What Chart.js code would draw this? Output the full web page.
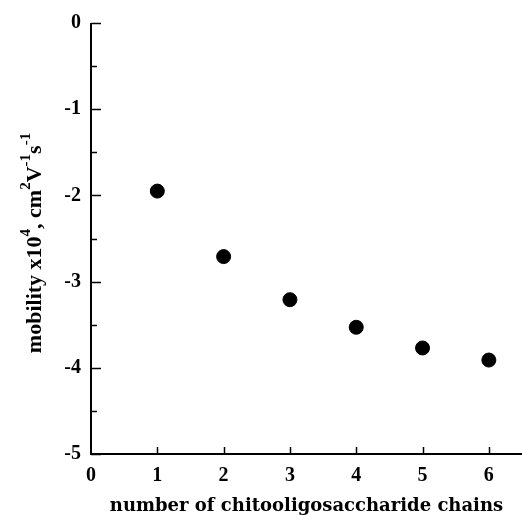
<!DOCTYPE html>
<html>
<head>
<meta charset="utf-8">
<script src="https://cdn.jsdelivr.net/npm/chart.js@4.4.0/dist/chart.umd.min.js"></script>
<style>
html, body { margin: 0; padding: 0; background: #fff; }
#wrap { width: 522px; height: 515px; }
</style>
</head>
<body>
<div id="wrap"><canvas id="mobilityChart"></canvas></div>
<script>
const chains = [1, 2, 3, 4, 5, 6];
const mobility = [-1.95, -2.71, -3.21, -3.53, -3.77, -3.91];
const xTicks = [0, 1, 2, 3, 4, 5, 6];
const yTicks = [0, -1, -2, -3, -4, -5];
const yMinorTicks = [-0.5, -1.5, -2.5, -3.5, -4.5];
const xTitle = 'number of chitooligosaccharide chains';
// [text, superscript?]
const yTitleParts = [['mobility x10', false], ['4', true], [', cm', false], ['2', true], ['V', false], ['-1', true], ['s', false], ['-1', true]];

const serif = "'Liberation Serif', 'Times New Roman', serif";

// axis lines + inward ticks (left and bottom only)
const axisFrame = {
    id: 'axisFrame',
    afterDraw(chart) {
        const ctx = chart.ctx;
        const x = chart.scales.x, y = chart.scales.y;
        const x0 = x.getPixelForValue(0), y0 = y.getPixelForValue(-5);
        ctx.save();
        ctx.strokeStyle = '#000';
        ctx.lineWidth = 2;
        ctx.beginPath();
        ctx.moveTo(x0, y.getPixelForValue(0));
        ctx.lineTo(x0, y0);
        ctx.lineTo(chart.chartArea.right, y0);
        ctx.stroke();
        ctx.lineWidth = 1.5;
        ctx.beginPath();
        yTicks.forEach(v => {
            const p = Math.round(y.getPixelForValue(v)) + 0.5;
            ctx.moveTo(x0, p);
            ctx.lineTo(x0 + 10, p);
        });
        yMinorTicks.forEach(v => {
            const p = Math.round(y.getPixelForValue(v)) + 0.5;
            ctx.moveTo(x0, p);
            ctx.lineTo(x0 + 6, p);
        });
        xTicks.slice(1).forEach(v => {
            const p = Math.round(x.getPixelForValue(v)) + 0.5;
            ctx.moveTo(p, y0);
            ctx.lineTo(p, y0 - 7);
        });
        ctx.stroke();
        ctx.restore();
    }
};

// rotated y title with superscripts
const yTitle = {
    id: 'yTitle',
    afterDraw(chart) {
        const ctx = chart.ctx;
        const mainFont = 'bold 22px ' + serif;
        const supFont = 'bold 15px ' + serif;
        ctx.save();
        let total = 0;
        yTitleParts.forEach(([t, sup]) => {
            ctx.font = sup ? supFont : mainFont;
            total += ctx.measureText(t).width;
        });
        ctx.translate(41, 243);
        ctx.rotate(-Math.PI / 2);
        ctx.fillStyle = '#000';
        ctx.textBaseline = 'alphabetic';
        let pos = -total / 2;
        yTitleParts.forEach(([t, sup]) => {
            ctx.font = sup ? supFont : mainFont;
            ctx.fillText(t, pos, sup ? -11 : 0);
            pos += ctx.measureText(t).width;
        });
        ctx.restore();
    }
};

const ctx = document.getElementById('mobilityChart').getContext('2d');

new Chart(ctx, {
    type: 'scatter',
    data: {
        datasets: [{
            data: chains.map((c, i) => ({ x: c, y: mobility[i] })),
            backgroundColor: '#000',
            borderColor: '#000',
            pointRadius: 7,
            pointHoverRadius: 7,
            showLine: false
        }]
    },
    options: {
        responsive: true,
        maintainAspectRatio: false,
        animation: false,
        layout: { autoPadding: false, padding: { top: 23, right: 0, left: 0, bottom: 0 } },
        plugins: {
            legend: { display: false },
            tooltip: { enabled: false }
        },
        scales: {
            x: {
                type: 'linear',
                min: 0,
                max: 6.5,
                afterBuildTicks: s => { s.ticks = xTicks.map(v => ({ value: v })); },
                afterFit: s => { s.height = 61; s.paddingLeft = 0; s.paddingRight = 0; },
                grid: { display: false, drawTicks: false },
                border: { display: false },
                ticks: {
                    color: '#000',
                    padding: 10,
                    maxRotation: 0,
                    font: { family: serif, size: 20, weight: 'bold' }
                },
                title: {
                    display: true,
                    text: xTitle,
                    color: '#000',
                    padding: 0,
                    font: { family: "'DejaVu Serif', serif", size: 18, weight: 'bold', lineHeight: 1 }
                }
            },
            y: {
                type: 'linear',
                min: -5,
                max: 0,
                afterBuildTicks: s => { s.ticks = yTicks.map(v => ({ value: v })); },
                afterFit: s => { s.width = 91; s.paddingTop = 0; s.paddingBottom = 0; },
                grid: { display: false, drawTicks: false },
                border: { display: false },
                ticks: {
                    color: '#000',
                    padding: 10,
                    font: { family: serif, size: 20, weight: 'bold' }
                }
            }
        }
    },
    plugins: [axisFrame, yTitle]
});
</script>
</body>
</html>
